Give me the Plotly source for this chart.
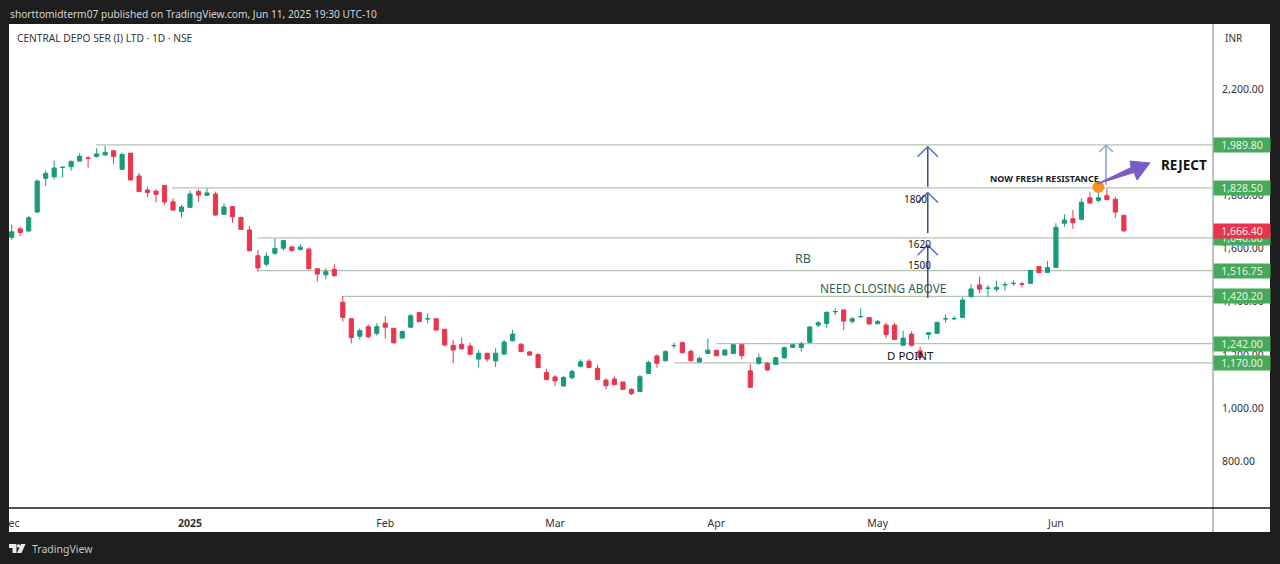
import plotly.graph_objects as go

# daily candles (x axis is just the bar number)
opens = [1642,1674,1666,1737,1864,1870,1905,1908,1929,1941,1946,1952,1968,1898,1959,1873,1820,1816,1837,1776,
         1739,1755,1815,1800,1805,1729,1758,1717,1670,1573,1541,1582,1601,1606,1597,1598,1524,1501,1522,
         1398,1336,1270,1306,1281,1319,1300,1263,1304,1359,1335,1336,1296,1236,1240,1233,1184,1206,1177,1203,
         1253,1240,1211,1201,1134,1117,1083,1114,1157,1176,1149,1105,1109,1098,1070,1062,1130,1196,
         1178,1234,1246,1213,1173,1205,1216,1199,1205,1238,1140,1168,1168,1164,1189,1228,1228,1247,1312,1318,
         1362,1369,1326,1343,1340,1317,1312,1312,1236,1278,1215,1277,1281,1335,1335.5,
         1341,1419,1463,1450,1447,1463,1468,1467,1469,1532,1510,1529,1695,1712,1710,1791,1781,1799,1785,1725]
highs = [1691,1682,1722,1860,1893,1931,1906,1931,1958,1948,1977,1987,1968,1961,1959,1885,1833,1823,1839,1789,
         1764,1818,1823,1826,1814,1770,1758,1720,1685,1595,1585,1638,1630,1611,1616,1605,1524,1526,1541,
         1421,1336,1300,1315,1319,1346,1300,1291,1354,1360,1356,1339,1298,1256,1265,1246,1218,1208,1225,1256,
         1294,1243,1215,1206,1147,1124,1120,1143,1183,1184,1162,1112,1118,1099,1074,1124,1178,1202,
         1218,1246,1249,1221,1193,1261,1221,1221,1241,1241,1165,1205,1173,1193,1231,1241,1249,1308,1327,1363,
         1375,1371,1343,1375,1342,1331,1321,1321,1291,1289,1231,1286,1325,1352,1346,
         1416,1465,1494,1463,1479,1475,1480,1475,1519,1534,1553,1695,1729,1745,1789,1811,1820,1823,1795,1725]
lows = [1632,1647,1663,1735,1835,1860,1867,1893,1927,1904,1943,1949,1918,1896,1855,1814,1793,1774,1764,1741,
        1717,1755,1776,1799,1724,1726,1697,1670,1588,1513,1532,1576,1592,1586,1592,1522,1475,1484,1494,
        1325,1243,1256,1262,1272,1262,1243,1261,1302,1322,1319,1291,1231,1168,1218,1199,1153,1174,1153,1199,
        1250,1210,1197,1149,1104,1083,1080,1108,1153,1149,1105,1070,1084,1068,1049,1060,1128,1152,
        1174,1224,1205,1175,1170,1203,1194,1197,1203,1183,1075,1163,1140,1162,1185,1226,1212,1244,1303,1302,
        1350,1293,1318,1341,1315,1315,1262,1256,1233,1231,1188,1258,1278,1321,1331,
        1339,1416,1432,1419,1438,1440,1460,1454,1467,1507,1509,1528,1682,1674,1705,1769,1773,1781,1716,1664]
closes = [1663,1660,1716,1854,1883,1903,1906,1928,1947,1939,1956,1962,1946,1954,1858,1814,1811,1804,1775,1745,
          1756,1805,1801,1809,1726,1756,1720,1672,1592,1527,1571,1600,1630,1593,1605,1524,1504,1513,1498,
          1341,1265,1291,1268,1306,1304,1245,1288,1347,1325,1336,1293,1237,1218,1223,1202,1206,1184,1206,1248,
          1278,1212,1199,1152,1107,1102,1115,1138,1174,1153,1107,1084,1088,1070,1054,1118,1171,1168,
          1212,1235,1208,1178,1187,1218,1197,1218,1238,1197,1078,1189,1143,1189,1227,1238,1241,1305,1321,1360,
          1363,1327,1336,1344,1316,1326,1277,1258,1263,1236,1190,1283,1322,1336,1336.5,
          1406,1448,1447,1451,1454,1464,1469,1466,1517,1509,1528,1680,1707,1697,1774,1771,1791,1784,1737,1666.4]

# support / resistance levels: price, bar they start from, price tag
level_prices = [1989.8, 1828.5, 1640, 1516.75, 1420.2, 1242, 1170]
level_starts = [9.9, 18.9, 28.9, 29, 38.9, 83, 78.1]
level_tags = ["1,989.80", "1,828.50", "1,640.00", "1,516.75", "1,420.20", "1,242.00", "1,170.00"]
last_price = 1666.4
last_tag = "1,666.40"

y_ticks = [800, 1000, 1200, 1400, 1600, 1800, 2000, 2200]
y_labels = ["800.00", "1,000.00", "1,200.00", "1,400.00", "1,600.00", "1,800.00", "2,000.00", "2,200.00"]
x_ticks = [0.27, 21, 44, 64, 83, 102, 123]
x_labels = ["ec", "<b>2025</b>", "Feb", "Mar", "Apr", "May", "Jun"]

# drawn arrows: bar, from price, to price
arrow_bars = [107.9, 107.9, 107.9, 128.9]
arrow_from = [1414, 1658, 1832, 1839]
arrow_to = [1613, 1811, 1983, 1989]
arrow_colors = ["#42508f", "#42508f", "#42508f", "#939fd2"]
head_colors = ["#5468c8", "#5468c8", "#5468c8", "#939fd2"]

reject_x = [127.85, 131.85, 131.73, 134.08, 132.56, 132.2, 127.85]
reject_y = [1843, 1905, 1929, 1922, 1858, 1886, 1843]

W = 1280
H = 564
L, R, T, B = 9, 1213, 24, 508
DARK = "#1e1e1e"
FONT = "Noto Sans"


def px(x):
    return (x - L) / (R - L)


def py(y):
    return (B - y) / (B - T)


fig = go.Figure()

fig.add_trace(go.Candlestick(
    x=list(range(len(opens))), open=opens, high=highs, low=lows, close=closes,
    increasing=dict(line=dict(color="#1a9a7c", width=1), fillcolor="#1a9a7c"),
    decreasing=dict(line=dict(color="#e9364f", width=1), fillcolor="#e9364f"),
    whiskerwidth=0, hoverinfo="skip"))

for i in range(len(arrow_bars)):
    b = arrow_bars[i]
    tip = arrow_to[i]
    fig.add_trace(go.Scatter(x=[b, b], y=[arrow_from[i], tip], mode="lines",
                             line=dict(color=arrow_colors[i], width=1.6), hoverinfo="skip"))
    dx = 0.8 if i == 3 else 1.2
    dy = 26 if i == 3 else 38
    fig.add_trace(go.Scatter(x=[b - dx, b, b + dx], y=[tip - dy, tip, tip - dy], mode="lines",
                             line=dict(color=head_colors[i], width=1.4), hoverinfo="skip"))

fig.add_trace(go.Scatter(x=[128.0], y=[1831], mode="markers",
                         marker=dict(color="#f59323", size=12), hoverinfo="skip"))
fig.add_trace(go.Scatter(x=reject_x, y=reject_y, mode="lines", fill="toself", fillcolor="#7a5cc8",
                         line=dict(color="#7a5cc8", width=1), hoverinfo="skip"))

shapes = [
    # white panels behind the price and time scales
    dict(type="rect", xref="paper", yref="paper", x0=px(L), x1=px(1270), y0=py(532), y1=py(T),
         fillcolor="white", line_width=0, layer="below"),
    dict(type="line", xref="paper", yref="paper", x0=px(R), x1=px(R), y0=py(532), y1=py(T),
         line=dict(color="#a6a6a6", width=1.4)),
    dict(type="line", xref="paper", yref="paper", x0=px(L), x1=px(1270), y0=py(B), y1=py(B),
         line=dict(color="#1a1a1a", width=1.4)),
    # tradingview logo
    dict(type="path", xref="paper", yref="paper", fillcolor="#e8e8e8", line_width=0,
         path="M %f %f L %f %f L %f %f L %f %f L %f %f L %f %f Z" % (
             px(9), py(544), px(16.5), py(544), px(16.5), py(553), px(12.5), py(553),
             px(12.5), py(548), px(9), py(548))),
    dict(type="path", xref="paper", yref="paper", fillcolor="#e8e8e8", line_width=0,
         path="M %f %f L %f %f L %f %f L %f %f Z" % (
             px(21), py(544), px(25.5), py(544), px(21.5), py(553), px(17), py(553))),
    dict(type="circle", xref="paper", yref="paper", fillcolor="#e8e8e8", line_width=0,
         x0=px(16.8), x1=px(20.2), y0=py(547.6), y1=py(544.2)),
]
for p, s in zip(level_prices, level_starts):
    shapes.append(dict(type="line", xref="x", yref="y", x0=s, x1=141.5, y0=p, y1=p,
                       line=dict(color="#b3c4b3", width=1.3), layer="below"))

annotations = []


def note(text, x, y, size, color="#111111", **kw):
    annotations.append(dict(text=text, x=x, y=y, xref="x", yref="y", showarrow=False,
                            font=dict(family=FONT, size=size, color=color), **kw))


def page_text(text, x, y, size, color):
    annotations.append(dict(text=text, x=px(x), y=py(y), xref="paper", yref="paper", showarrow=False,
                            xanchor="left", yanchor="middle",
                            font=dict(family=FONT, size=size, color=color)))


def tag(text, price, color):
    annotations.append(dict(text=text, x=px(R), y=price, xref="paper", yref="y", showarrow=False,
                            xanchor="left", yanchor="middle", width=54, height=12, borderpad=1,
                            bgcolor=color, align="center",
                            font=dict(family=FONT, size=10.5, color="#e6f4e6")))


note("<b>NOW FRESH RESISTANCE</b>", 121.6, 1865, 9, "#1c1c1c")
note("<b>REJECT</b>", 138.1, 1914, 13.5)
note("RB", 93.2, 1564, 12.5, "#2f5f4f")
note("NEED CLOSING ABOVE", 102.6, 1451, 11.9, "#2f5f4f")
note("D POINT", 105.9, 1196, 11.5)
note("1800", 106.5, 1786, 10)
note("1620", 106.9, 1617, 10)
note("1500", 106.9, 1538, 10)

page_text("shorttomidterm07 published on TradingView.com, Jun 11, 2025 19:30 UTC-10", 8, 14, 10.2, "#d4d4d4")
page_text("CENTRAL DEPO SER (I) LTD · 1D · NSE", 15, 37.5, 10.2, "#333333")
page_text("INR", 1223, 38, 10, "#333333")
page_text("TradingView", 30, 549, 10.5, "#c4c4c4")

for lbl, p in zip(level_tags, level_prices):
    tag(lbl, p, "#47a95a")
tag(last_tag, last_price, "#ea3350")

fig.update_layout(
    width=W, height=H, autosize=False,
    margin=dict(l=L, r=W - R, t=T, b=H - B),
    paper_bgcolor=DARK, plot_bgcolor="white",
    showlegend=False, shapes=shapes, annotations=annotations,
    font=dict(family=FONT, size=10.5, color="#333333"),
)
fig.update_xaxes(range=[-0.32, 141.5], rangeslider_visible=False, showgrid=False, zeroline=False,
                 tickmode="array", tickvals=x_ticks, ticktext=x_labels,
                 ticks="outside", ticklen=5, tickcolor="rgba(255,255,255,0)",
                 tickfont=dict(size=10.5, color="#333333"))
fig.update_yaxes(range=[623.8, 2444.7], side="right", showgrid=False, zeroline=False,
                 tickmode="array", tickvals=y_ticks, ticktext=y_labels,
                 ticks="outside", ticklen=6, tickcolor="rgba(255,255,255,0)",
                 tickfont=dict(size=10.5, color="#333333"))

# the page has a default 8px body margin, the chart has to sit flush in the window
fig.write_html("out.html", config=dict(displayModeBar=False),
               post_script="document.body.style.margin='0';document.body.style.overflow='hidden';document.body.style.background='%s';" % DARK)
